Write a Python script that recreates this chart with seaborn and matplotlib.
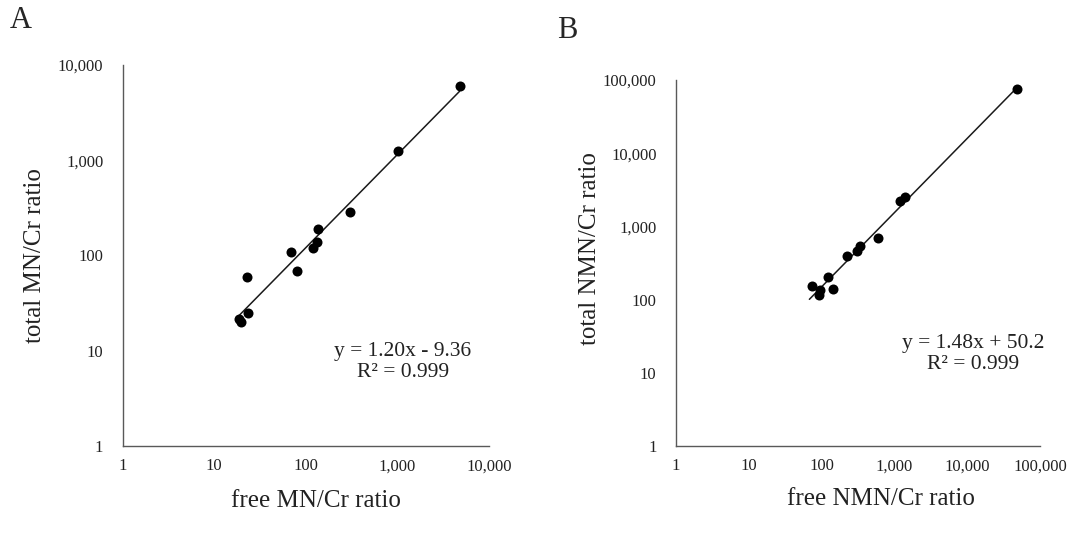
import numpy as np
import pandas as pd
import matplotlib
matplotlib.use('Agg')
import matplotlib.pyplot as plt
import seaborn as sns
from matplotlib.ticker import FuncFormatter, FixedLocator

# panel A: free vs total MN/Cr ratio
mn_free = [4770, 1003, 300, 136, 132, 121, 69, 81, 22.7, 23.4, 18.8, 19.8]
mn_total = [5970, 1244, 288, 191, 140, 119, 110, 68, 59, 25, 21.6, 20.2]
mn_eq = "y = 1.20x - 9.36\nR² = 0.999"

# panel B: free vs total NMN/Cr ratio
nmn_free = [47900, 1413, 1194, 595, 340, 309, 223, 124, 73, 142, 95, 93]
nmn_total = [74600, 2500, 2244, 687, 545, 461, 394, 206, 155, 140, 135, 116]
nmn_eq = "y = 1.48x + 50.2\nR² = 0.999"

sns.set_style("white")
plt.rcParams['font.family'] = ['Liberation Serif', 'DejaVu Serif']

fig = plt.figure(figsize=(10.69, 5.34), dpi=100)
axA = fig.add_axes([0.1148, 0.1648, 0.3426, 0.7135])
axB = fig.add_axes([0.6324, 0.1648, 0.3405, 0.6854])

fmt = FuncFormatter(lambda v, p: f"{v:,.0f}")


def draw_panel(ax, xs, ys, xmax, ymax, xlabel, ylabel, eq, eq_pos, xl_pos, yl_pos):
    df = pd.DataFrame({'free': xs, 'total': ys})
    sns.scatterplot(data=df, x='free', y='total', ax=ax, color='black',
                    s=52, edgecolor='black', linewidth=0, zorder=3)
    # trend line fitted in log-log space
    lx, ly = np.log10(df['free']), np.log10(df['total'])
    k, b = np.polyfit(lx, ly, 1)
    xr = np.array([df['free'].min() * 0.93, df['free'].max()])
    ax.plot(xr, 10 ** (k * np.log10(xr) + b), color='#1a1a1a', lw=1.1, zorder=2)

    ax.set_xscale('log')
    ax.set_yscale('log')
    ax.set_xlim(1, xmax)
    ax.set_ylim(1, ymax)
    ax.xaxis.set_major_locator(FixedLocator([10 ** i for i in range(int(np.log10(xmax)) + 1)]))
    ax.yaxis.set_major_locator(FixedLocator([10 ** i for i in range(int(np.log10(ymax)) + 1)]))
    ax.xaxis.set_minor_locator(FixedLocator([]))
    ax.yaxis.set_minor_locator(FixedLocator([]))
    ax.xaxis.set_major_formatter(fmt)
    ax.yaxis.set_major_formatter(fmt)
    ax.tick_params(axis='both', length=0, labelsize=12, colors='#222222')
    ax.tick_params(axis='y', pad=14)
    ax.tick_params(axis='x', pad=9)
    sns.despine(ax=ax)
    for sp in ['left', 'bottom']:
        ax.spines[sp].set_color('#595959')
        ax.spines[sp].set_linewidth(1.0)
    ax.set_xlabel(xlabel, fontsize=18, color='#222222')
    ax.set_ylabel(ylabel, fontsize=18, color='#222222')
    ax.xaxis.set_label_coords(*xl_pos)
    ax.yaxis.set_label_coords(*yl_pos)
    ax.text(eq_pos[0], eq_pos[1], eq, transform=fig.transFigure, ha='center',
            va='center', fontsize=15.5, multialignment='center', color='#222222',
            linespacing=1.2)


draw_panel(axA, mn_free, mn_total, 10000, 10000, 'free MN/Cr ratio',
           'total MN/Cr ratio', mn_eq, (403 / 1069, 1 - 362 / 534),
           (0.527, -0.115), (-0.21, 0.5))
draw_panel(axB, nmn_free, nmn_total, 100000, 100000, 'free NMN/Cr ratio',
           'total NMN/Cr ratio', nmn_eq, (973 / 1069, 1 - 354 / 534),
           (0.563, -0.115), (-0.205, 0.54))

fig.text(10 / 1069, 1 - 21 / 534, 'A', fontsize=22, va='center', ha='left')
fig.text(557 / 1069, 1 - 30 / 534, 'B', fontsize=22, va='center', ha='left')

fig.savefig('out.png', dpi=100)
